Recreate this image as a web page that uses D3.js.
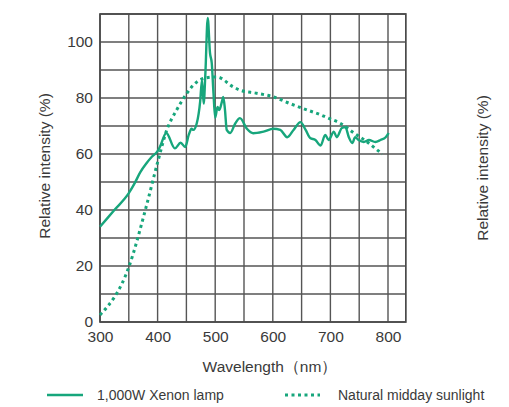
<!DOCTYPE html>
<html>
  <head>
    <script src="https://cdn.jsdelivr.net/npm/d3@7/dist/d3.min.js" charset="utf-8"></script>
    <style type="text/css">
    body { margin: 0; background: #fff; }
    text { font-family: "Liberation Sans", Arial, sans-serif; fill: #3a3a3a; }
    .tick text { font-family: "Liberation Sans Narrow", "Liberation Sans", Arial, sans-serif; font-size: 15.5px; }
    </style>
  </head>
  <body>
  <script type="text/javascript">
  // 1,000W Xenon lamp, [wavelength nm, relative %]
  var xenonNm  = [300, 325, 350, 360, 370, 380, 390, 400, 405, 415, 430, 440, 448, 454, 459, 462, 468, 474, 477, 480, 483, 487, 491, 494, 497, 500, 504, 507, 512, 514, 517, 520, 526, 535, 543, 555, 566, 584, 601, 613, 625, 636, 648, 657, 665, 674, 683, 691, 697, 706, 711, 720, 726, 732, 738, 743, 749, 758, 767, 778, 787, 796, 801];
  var xenonVal = [34, 40, 46, 49.5, 53.5, 56.5, 59, 61, 63, 67.5, 62, 64, 62.5, 66.8, 69, 68.6, 71, 79, 86.4, 78, 89, 108.6, 96, 92.5, 81.8, 73, 76.8, 75.7, 79, 80.4, 75.7, 68.6, 67.5, 71, 72.8, 69, 67.4, 68, 69, 68.6, 66, 68.6, 71.4, 68.6, 65.7, 65, 63, 66.8, 65, 68, 66, 69.3, 69.6, 66, 63.9, 66, 65, 64.3, 65, 64.3, 65, 66, 67.5];

  // Natural midday sunlight
  var sunNm  = [300, 350, 380, 400, 416, 433, 451, 462, 480, 497, 503, 531, 543, 572, 601, 630, 660, 683, 694, 717, 741, 764, 778, 790];
  var sunVal = [2.5, 19.6, 41, 57, 68.6, 75.7, 81.7, 84.6, 87, 87.5, 87.5, 84, 82.8, 81.7, 80.4, 78, 75.7, 74, 73, 71, 67.5, 64.3, 62, 60];

  var xTicks = [300, 400, 500, 600, 700, 800];
  var yTicks = [0, 20, 40, 60, 80, 100];
  var green = "#17a67c";

  var W = 509, H = 407;
  var svg = d3.select("body").append("svg").attr("width", W).attr("height", H);

  var x = d3.scaleLinear().domain([300, 800]).range([100, 388]);
  var y = d3.scaleLinear().domain([0, 110]).range([322, 14]);
  var xMax = 831;

  // grid
  var g = svg.append("g");
  g.selectAll("line.v").data(d3.range(300, 801, 50)).enter().append("line")
    .attr("x1", function(d) { return x(d); }).attr("x2", function(d) { return x(d); })
    .attr("y1", y(0)).attr("y2", y(110))
    .attr("stroke", "#555").attr("stroke-width", 1.4);
  g.selectAll("line.h").data(d3.range(0, 111, 10)).enter().append("line")
    .attr("x1", x(300)).attr("x2", x(xMax))
    .attr("y1", function(d) { return y(d); }).attr("y2", function(d) { return y(d); })
    .attr("stroke", "#555").attr("stroke-width", 1.4);
  g.append("rect").attr("x", x(300)).attr("y", y(110))
    .attr("width", x(xMax) - x(300)).attr("height", y(0) - y(110))
    .attr("fill", "none").attr("stroke", "#4a4a4a").attr("stroke-width", 1.7);

  // axes (labels only)
  var xAxis = svg.append("g").attr("transform", "translate(0," + (y(0) + 4) + ")")
    .call(d3.axisBottom(x).tickValues(xTicks).tickSize(0).tickFormat(d3.format("d")));
  var yAxis = svg.append("g").attr("transform", "translate(" + (x(300) - 4) + ",0)")
    .call(d3.axisLeft(y).tickValues(yTicks).tickSize(0).tickFormat(d3.format("d")));
  svg.selectAll(".domain").remove();
  xAxis.selectAll("text").attr("dy", "0.85em");

  // series
  var line = d3.line().x(function(d) { return x(d[0]); }).y(function(d) { return y(d[1]); })
    .curve(d3.curveMonotoneX);
  var sun = d3.zip(sunNm, sunVal);
  var xenon = d3.zip(xenonNm, xenonVal);

  svg.append("path").datum(sun).attr("d", line)
    .attr("fill", "none").attr("stroke", green).attr("stroke-width", 3)
    .attr("stroke-dasharray", "3,3.5");
  svg.append("path").datum(xenon).attr("d", line)
    .attr("fill", "none").attr("stroke", green).attr("stroke-width", 2.4)
    .attr("stroke-linejoin", "round");

  // titles
  svg.append("text").attr("transform", "translate(50,166) rotate(-90)")
    .attr("text-anchor", "middle").style("font-size", "15.5px").text("Relative intensity (%)");
  svg.append("text").attr("transform", "translate(488,168) rotate(-90)")
    .attr("text-anchor", "middle").style("font-size", "15.5px").text("Relative intensity (%)");
  svg.append("text").attr("x", 270).attr("y", 372)
    .attr("text-anchor", "middle").style("font-size", "15.5px").text("Wavelength（nm）");

  // legend
  var lg = svg.append("g");
  lg.append("line").attr("x1", 47).attr("x2", 83).attr("y1", 395).attr("y2", 395)
    .attr("stroke", green).attr("stroke-width", 2.4);
  lg.append("text").attr("x", 97).attr("y", 400).style("font-size", "14px").text("1,000W Xenon lamp");
  lg.append("line").attr("x1", 285).attr("x2", 320).attr("y1", 395).attr("y2", 395)
    .attr("stroke", green).attr("stroke-width", 3).attr("stroke-dasharray", "3,3.5");
  lg.append("text").attr("x", 338).attr("y", 400).style("font-size", "14px").text("Natural midday sunlight");
  </script>
  </body>
</html>
